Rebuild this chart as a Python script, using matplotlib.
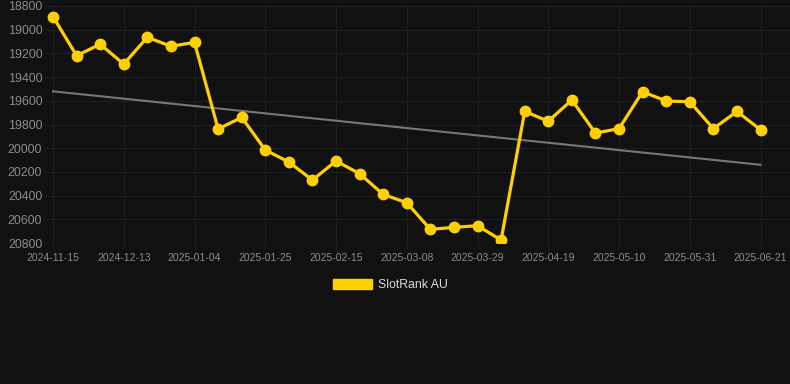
import matplotlib.pyplot as plt

plt.rcParams['font.family'] = ['Liberation Sans', 'DejaVu Sans']

# weekly SlotRank positions (lower is better, axis inverted)
dates = ['2024-11-15', '2024-11-22', '2024-12-06', '2024-12-13', '2024-12-21',
         '2024-12-28', '2025-01-04', '2025-01-11', '2025-01-18', '2025-01-25',
         '2025-02-01', '2025-02-08', '2025-02-15', '2025-02-22', '2025-03-01',
         '2025-03-08', '2025-03-15', '2025-03-22', '2025-03-29', '2025-04-05',
         '2025-04-12', '2025-04-19', '2025-04-26', '2025-05-03', '2025-05-10',
         '2025-05-17', '2025-05-24', '2025-05-31', '2025-06-07', '2025-06-14',
         '2025-06-21']
rank = [18890, 19219, 19123, 19290, 19064, 19140, 19107, 19838, 19740, 20015,
        20117, 20269, 20108, 20215, 20390, 20460, 20685, 20668, 20654, 20775,
        19690, 19772, 19593, 19872, 19835, 19523, 19602, 19608, 19835, 19690,
        19844]
trend = [19520, 20140]  # start / end of trend line
yticks = [18800, 19000, 19200, 19400, 19600, 19800, 20000, 20200, 20400, 20600, 20800]

bg = '#111111'
fig = plt.figure(figsize=(7.9, 3.84), dpi=100, facecolor=bg)
ax = fig.add_axes([45 / 790, 141 / 384, 745 / 790, 237 / 384], facecolor=bg)

x = list(range(len(dates)))
ax.plot([x[0], x[-1]], trend, color='#777777', linewidth=1.5, zorder=2)
ax.plot(x, rank, color='#FFD000', linewidth=2.3, marker='o', markersize=7.5,
        label='SlotRank AU', zorder=3)

ax.set_ylim(20800, 18800)
ax.set_xlim(-0.34, 31.25)
ax.set_yticks(yticks)
ax.set_xticks(x[::3])
ax.set_xticklabels(dates[::3])

ax.grid(True, color='#1f1f1f', linewidth=0.8)
for s in ax.spines.values():
    s.set_visible(False)
ax.tick_params(axis='y', length=0, labelsize=8.9, colors='#8c8c8c', pad=2)
ax.tick_params(axis='x', length=4, color='#1f1f1f', labelsize=7.5,
               colors='#8c8c8c', pad=3)

leg = fig.legend(handles=[plt.Rectangle((0, 0), 1, 1, color='#FFD000')],
                 labels=['SlotRank AU'], loc='center', bbox_to_anchor=(0.494, 0.258),
                 frameon=False, fontsize=8.8, handlelength=3.2, handleheight=0.9,
                 handletextpad=0.5)
for t in leg.get_texts():
    t.set_color('#dddddd')

fig.savefig('out.png', facecolor=bg)
